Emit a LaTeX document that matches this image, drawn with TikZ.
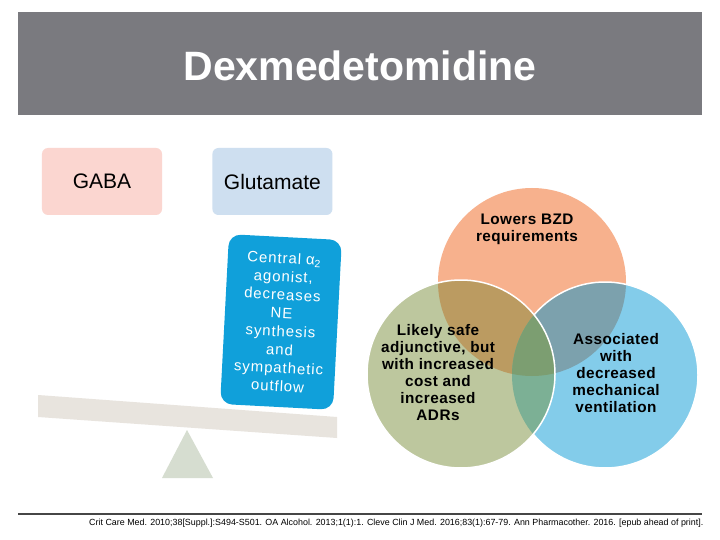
\documentclass[tikz,border=0pt]{standalone}
\usepackage{fontspec}
\setmainfont{Liberation Sans}
\newfontfamily\wideface[LetterSpace=6]{Liberation Sans}
\newfontfamily\vennface[LetterSpace=3]{Liberation Sans}
\usetikzlibrary{positioning}
\definecolor{titlegray}{RGB}{122,122,127}
\definecolor{gabapink}{RGB}{251,214,208}
\definecolor{glublue}{RGB}{206,223,240}
\definecolor{alphablue}{RGB}{16,160,218}
\definecolor{plankgray}{RGB}{232,228,222}
\definecolor{fulcgray}{RGB}{214,221,208}
\definecolor{vorange}{RGB}{247,177,141}
\definecolor{vgreen}{RGB}{189,199,158}
\definecolor{vblue}{RGB}{131,204,234}
\definecolor{vog}{RGB}{187,155,97}
\definecolor{vob}{RGB}{124,161,173}
\definecolor{vgb}{RGB}{124,176,149}
\definecolor{vall}{RGB}{124,158,113}
\definecolor{rulegray}{RGB}{70,70,70}

\begin{document}
\begin{tikzpicture}[x=1bp,y=-1bp,
    nt/.style={rectangle,rounded corners=6bp,minimum width=120bp,minimum height=67bp,
      font=\fontsize{21bp}{25bp}\selectfont},
    ab/.style={rectangle,rounded corners=12bp,fill=alphablue,text=white,align=center,
      minimum width=113bp,minimum height=170bp,inner sep=2bp,
      font=\wideface\fontsize{15bp}{18.3bp}\selectfont},
    vt/.style={align=center,font=\vennface\bfseries\fontsize{15.3bp}{17bp}\selectfont},
    ring/.style={draw=white,line width=1.5bp}]
  \fill[white] (0,0) rectangle (720,540);
  % title
  \fill[titlegray] (18,12) rectangle (702,115);
  \node[text=white,font=\bfseries\fontsize{41bp}{45bp}\selectfont] (title) at (360,66) {Dexmedetomidine};
  % balance
  \node[nt,fill=gabapink] (ga) at (102,181.5) {GABA};
  \node[nt,fill=glublue,right=50bp of ga] (glu) {Glutamate};
  \fill[fulcgray] (187,430) -- (213,478) -- (162,478) -- cycle;
  \fill[plankgray] (38,395) -- (337,417) -- (337,438) -- (38,417) -- cycle;
  \node[ab,rotate=-3] (alpha) at (281,322) {Central α\textsubscript{2}\\agonist,\\decreases\\NE\\synthesis\\and\\sympathetic\\outflow};
  % venn
  \coordinate (co) at (532,282);
  \coordinate (cg) at (461,374);
  \coordinate (cb) at (605,375);
  \fill[vorange] (co) circle (94);
  \fill[vblue] (cb) circle (93);
  \begin{scope}
    \clip (co) circle (94);
    \fill[vob] (cb) circle (93);
  \end{scope}
  \draw[ring] (cb) circle (93);
  \fill[vgreen] (cg) circle (94);
  \begin{scope}
    \clip (cg) circle (94);
    \fill[vog] (co) circle (94);
    \fill[vgb] (cb) circle (93);
    \clip (co) circle (94);
    \fill[vall] (cb) circle (93);
  \end{scope}
  \draw[ring] (cg) circle (94);
  \node[vt] (bzd) at (527,229) {Lowers BZD\\requirements};
  \node[vt] (safe) at (438,373) {Likely safe\\adjunctive, but\\with increased\\cost and\\increased\\ADRs};
  \node[vt] (vent) at (616,373) {Associated\\with\\decreased\\mechanical\\ventilation};
  % references
  \draw[rulegray,line width=2.5bp] (18,514) -- (702,514);
  \node[anchor=west,inner sep=0pt,font=\fontsize{8.9bp}{10bp}\selectfont] (refs) at (89,523) {Crit Care Med. 2010;38[Suppl.]:S494-S501. OA Alcohol. 2013;1(1):1. Cleve Clin J Med. 2016;83(1):67-79. Ann Pharmacother. 2016. [epub ahead of print].};
\end{tikzpicture}
\end{document}
